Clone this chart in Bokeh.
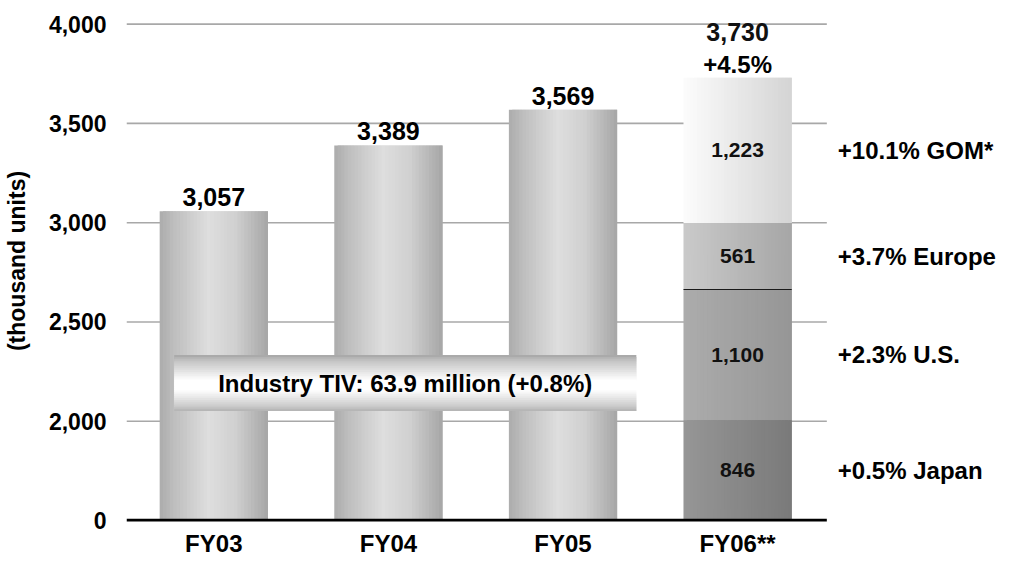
import numpy as np
from bokeh.plotting import figure
from bokeh.models import ColumnDataSource, FixedTicker
from bokeh.core.properties import value
from bokeh.embed import file_html
from bokeh.resources import INLINE

# ---------------- data ----------------
years = ["FY03", "FY04", "FY05", "FY06**"]
totals = [3057, 3389, 3569, 3730]
total_labels = ["3,057", "3,389", "3,569", "3,730"]
fy06_growth = "+4.5%"
regions = ["Japan", "U.S.", "Europe", "GOM*"]
region_values = [846, 1100, 561, 1223]
region_labels = ["846", "1,100", "561", "1,223"]
region_growth = ["+0.5% Japan", "+2.3%  U.S.", "+3.7% Europe", "+10.1% GOM*"]
y_ticks = [0, 2000, 2500, 3000, 3500, 4000]
y_tick_labels = ["0", "2,000", "2,500", "3,000", "3,500", "4,000"]
y_axis_title = "(thousand units)"
tiv_note = "Industry TIV: 63.9 million (+0.8%)"

# ---------------- layout / style constants ----------------
AXIS_ZERO = 1500          # broken axis: where the "0" tick sits
Y_START, Y_END = 1495, 4119
X_END = 881 / 176
GRID_RIGHT = 4.011
BAR_W = 0.62
RIGHT_LABEL_X = 4.074
TIV_BOX = dict(left=0.273, right=2.92, bottom=2051, top=2333)
FONT = value("Liberation Sans")

bar_profile_t = [0.0, 0.15, 0.45, 0.7, 1.0]
bar_profile_v = [172, 192, 222, 208, 166]
seg_profiles = [(150, 122), (172, 150), (202, 166), (252, 212)]
tiv_profile_t = [0.0, 0.1, 0.45, 0.62, 0.9, 1.0]
tiv_profile_v = [165, 195, 255, 255, 205, 178]


def grey(v):
    v = int(round(max(0, min(255, v))))
    return "#%02x%02x%02x" % (v, v, v)


strips = dict(left=[], right=[], bottom=[], top=[], color=[])


def h_strips(left, right, bottom, top, pt, pv, n=32):
    w = (right - left) / n
    for i in range(n):
        l = left + i * w
        r = min(l + 2 * w, right)
        c = np.interp((i + 0.5) / n, pt, pv)
        strips["left"].append(l)
        strips["right"].append(r)
        strips["bottom"].append(bottom)
        strips["top"].append(top)
        strips["color"].append(grey(c))


def v_strips(left, right, bottom, top, pt, pv, n=30):
    h = (top - bottom) / n
    for i in range(n):
        tp = top - i * h
        bt = max(tp - 2 * h, bottom)
        c = np.interp((i + 0.5) / n, pt, pv)
        strips["left"].append(left)
        strips["right"].append(right)
        strips["bottom"].append(bt)
        strips["top"].append(tp)
        strips["color"].append(grey(c))


centers = [i + 0.5 for i in range(len(years))]

# plain bars FY03..FY05
for i in range(len(years) - 1):
    h_strips(centers[i] - BAR_W / 2, centers[i] + BAR_W / 2, AXIS_ZERO, totals[i],
             bar_profile_t, bar_profile_v)

# stacked FY06 bar (segments scaled into the drawn bar)
scale = (totals[-1] - AXIS_ZERO) / sum(region_values)
seg_bottoms, seg_tops = [], []
cur = AXIS_ZERO
for v in region_values:
    seg_bottoms.append(cur)
    cur = cur + v * scale
    seg_tops.append(cur)
c6 = centers[-1]
for k in range(len(regions)):
    a, b = seg_profiles[k]
    h_strips(c6 - BAR_W / 2, c6 + BAR_W / 2, seg_bottoms[k], seg_tops[k], [0, 1], [a, b])

# TIV callout box
v_strips(TIV_BOX["left"], TIV_BOX["right"], TIV_BOX["bottom"], TIV_BOX["top"],
         tiv_profile_t, tiv_profile_v)

# ---------------- figure ----------------
p = figure(width=1000, height=559, x_range=(0, X_END), y_range=(Y_START, Y_END),
           output_backend="svg", toolbar_location=None,
           min_border_left=119, min_border_right=0, min_border_top=0, min_border_bottom=30)
p.xgrid.visible = False
p.ygrid.visible = False
p.outline_line_color = None
p.background_fill_color = "white"
p.border_fill_color = "white"

tick_pos = [AXIS_ZERO if t == 0 else t for t in y_ticks]

# grid lines
grid_y = [t for t in tick_pos if t != AXIS_ZERO]
p.segment(x0=[0] * len(grid_y), x1=[GRID_RIGHT] * len(grid_y), y0=grid_y, y1=grid_y,
          line_color="#a8a8a8", line_width=1.6)

# bars (gradient strips)
p.quad(left="left", right="right", bottom="bottom", top="top", fill_color="color",
       line_color=None, source=ColumnDataSource(strips))

# separator line Europe/U.S.
p.segment(x0=[c6 - BAR_W / 2], x1=[c6 + BAR_W / 2], y0=[seg_tops[1]], y1=[seg_tops[1]],
          line_color="#1a1a1a", line_width=1.2)

# baseline
p.segment(x0=[0], x1=[GRID_RIGHT], y0=[AXIS_ZERO], y1=[AXIS_ZERO],
          line_color="black", line_width=3.5)

# value labels above bars
p.text(x=centers[:-1], y=totals[:-1], text=total_labels[:-1], text_font=FONT,
       text_font_style="bold", text_font_size="25px", text_align="center",
       text_baseline="alphabetic", y_offset=-14, text_color="black")
p.text(x=[c6], y=[totals[-1]], text=[fy06_growth], text_font=FONT,
       text_font_style="bold", text_font_size="24px", text_align="center",
       text_baseline="alphabetic", y_offset=-13, text_color="black")
p.text(x=[c6], y=[totals[-1]], text=[total_labels[-1]], text_font=FONT,
       text_font_style="bold", text_font_size="25px", text_align="center",
       text_baseline="alphabetic", y_offset=-46, text_color="#111111")

# segment labels
seg_mid = [(a + b) / 2 for a, b in zip(seg_bottoms, seg_tops)]
p.text(x=[c6] * len(regions), y=seg_mid, text=region_labels, text_font=FONT,
       text_font_style="bold", text_font_size="21px", text_align="center",
       text_baseline="middle", text_color="#111111")
p.text(x=[RIGHT_LABEL_X] * len(regions), y=seg_mid, text=region_growth, text_font=FONT,
       text_font_style="bold", text_font_size="24px", text_align="left",
       text_baseline="middle", text_color="black")

# TIV note
p.text(x=[(TIV_BOX["left"] + TIV_BOX["right"]) / 2], y=[(TIV_BOX["bottom"] + TIV_BOX["top"]) / 2],
       text=[tiv_note], text_font=FONT, text_font_style="bold", text_font_size="24px",
       text_align="center", text_baseline="middle", text_color="black")

# axes
p.yaxis.ticker = FixedTicker(ticks=tick_pos)
p.yaxis.major_label_overrides = {pos: lab for pos, lab in zip(tick_pos, y_tick_labels)}
p.yaxis.axis_line_color = None
p.yaxis.major_tick_line_color = None
p.yaxis.minor_tick_line_color = None
p.yaxis.major_label_standoff = 14
p.yaxis.major_label_text_font = "Liberation Sans"
p.yaxis.major_label_text_font_style = "bold"
p.yaxis.major_label_text_font_size = "23px"
p.yaxis.major_label_text_color = "black"
p.yaxis.axis_label = y_axis_title
p.yaxis.axis_label_text_font = "Liberation Sans"
p.yaxis.axis_label_text_font_style = "bold"
p.yaxis.axis_label_text_font_size = "23px"
p.yaxis.axis_label_text_color = "black"
p.yaxis.axis_label_standoff = 16

p.xaxis.ticker = FixedTicker(ticks=centers)
p.xaxis.major_label_overrides = {c: y for c, y in zip(centers, years)}
p.xaxis.axis_line_color = None
p.xaxis.major_tick_line_color = None
p.xaxis.minor_tick_line_color = None
p.xaxis.major_label_standoff = 2
p.xaxis.major_label_text_font = "Liberation Sans"
p.xaxis.major_label_text_font_style = "bold"
p.xaxis.major_label_text_font_size = "24px"
p.xaxis.major_label_text_color = "black"

open("out.html", "w").write(file_html(p, INLINE))
